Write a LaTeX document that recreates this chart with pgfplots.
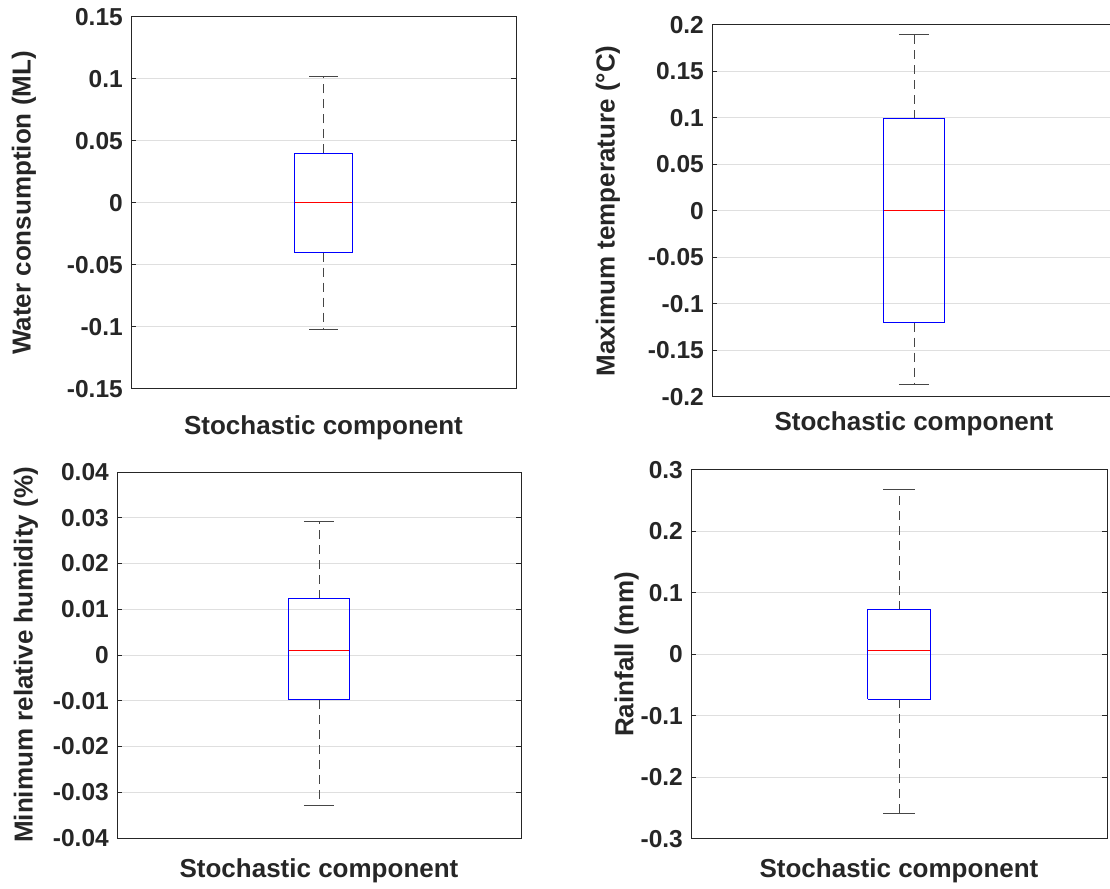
\documentclass[border=0pt]{standalone}
\usepackage{pgfplots}
\pgfplotsset{compat=1.18}
\usepackage{fontspec}
\setmainfont{Liberation Sans}
\definecolor{mgray}{RGB}{38,38,38}
\definecolor{mgrid}{RGB}{223,223,223}
\definecolor{mblue}{RGB}{0,0,255}
\definecolor{mred}{RGB}{255,0,0}
\definecolor{mwhisk}{RGB}{70,70,70}
\pgfplotsset{
  mstyle/.style={
    scale only axis, anchor=south west,
    xmin=0, xmax=1, xtick=\empty,
    scaled y ticks=false,
    axis line style={mgray, line width=1pt},
    ymajorgrids, grid style={mgrid, line width=1pt},
    major tick style={mgray, line width=1pt},
    major tick length=5pt,
    tick align=inside,
    ytick pos=both, yticklabel pos=left,
    tick label style={font=\fontsize{24.5}{24.5}\selectfont\bfseries, text=mgray},
    yticklabel style={inner sep=0pt, xshift=-8pt},
    label style={font=\fontsize{26}{26}\selectfont\bfseries, text=mgray},
    xlabel={Stochastic component},
    clip=false,
  },
  whisk/.style={mwhisk, line width=1pt, dash pattern=on 9pt off 6pt},
  cap/.style={mwhisk, line width=1pt},
  bx/.style={mblue, line width=1pt},
  md/.style={mred, line width=1pt},
}
\begin{document}
\begin{tikzpicture}
\path[use as bounding box] (0,0) rectangle (1110pt,888pt);

% Top-left: Water consumption
\begin{axis}[mstyle, at={(131pt,499pt)}, width=385pt, height=372pt,
  ymin=-0.15, ymax=0.15,
  ytick={-0.15,-0.1,-0.05,0,0.05,0.1,0.15},
  yticklabels={-0.15,-0.1,-0.05,0,0.05,0.1,0.15},
  ylabel={Water consumption (ML)},
  ylabel style={at={(axis description cs:-0.2779,0.5)}, anchor=center},
  xlabel style={at={(axis description cs:0.5,0)}, anchor=base, yshift=-46pt},
]
\addplot[whisk] coordinates {(0.5,0.040) (0.5,0.102)};
\addplot[whisk] coordinates {(0.5,-0.040) (0.5,-0.102)};
\addplot[cap] coordinates {(0.4625,0.102) (0.5375,0.102)};
\addplot[cap] coordinates {(0.4625,-0.102) (0.5375,-0.102)};
\addplot[bx] coordinates {(0.425,-0.040) (0.575,-0.040) (0.575,0.040) (0.425,0.040) (0.425,-0.040)};
\addplot[md] coordinates {(0.425,0.000) (0.575,0.000)};
\end{axis}

% Top-right: Maximum temperature
\begin{axis}[mstyle, at={(712pt,491pt)}, width=404pt, height=372pt,
  ymin=-0.2, ymax=0.2,
  ytick={-0.2,-0.15,-0.1,-0.05,0,0.05,0.1,0.15,0.2},
  yticklabels={-0.2,-0.15,-0.1,-0.05,0,0.05,0.1,0.15,0.2},
  ylabel={Maximum temperature (°C)},
  ylabel style={at={(axis description cs:-0.2574,0.5)}, anchor=center},
  xlabel style={at={(axis description cs:0.5,0)}, anchor=base, yshift=-34pt},
]
\addplot[whisk] coordinates {(0.5,0.099) (0.5,0.190)};
\addplot[whisk] coordinates {(0.5,-0.120) (0.5,-0.187)};
\addplot[cap] coordinates {(0.4625,0.190) (0.5375,0.190)};
\addplot[cap] coordinates {(0.4625,-0.187) (0.5375,-0.187)};
\addplot[bx] coordinates {(0.425,-0.120) (0.575,-0.120) (0.575,0.099) (0.425,0.099) (0.425,-0.120)};
\addplot[md] coordinates {(0.425,0.000) (0.575,0.000)};
\end{axis}

% Bottom-left: Minimum relative humidity
\begin{axis}[mstyle, at={(117pt,50pt)}, width=404pt, height=366pt,
  ymin=-0.04, ymax=0.04,
  ytick={-0.04,-0.03,-0.02,-0.01,0,0.01,0.02,0.03,0.04},
  yticklabels={-0.04,-0.03,-0.02,-0.01,0,0.01,0.02,0.03,0.04},
  ylabel={Minimum relative humidity (\%)},
  ylabel style={at={(axis description cs:-0.2252,0.5)}, anchor=center},
  xlabel style={at={(axis description cs:0.5,0)}, anchor=base, yshift=-39pt},
]
\addplot[whisk] coordinates {(0.5,0.0123) (0.5,0.0292)};
\addplot[whisk] coordinates {(0.5,-0.0098) (0.5,-0.0328)};
\addplot[cap] coordinates {(0.4625,0.0292) (0.5375,0.0292)};
\addplot[cap] coordinates {(0.4625,-0.0328) (0.5375,-0.0328)};
\addplot[bx] coordinates {(0.425,-0.0098) (0.575,-0.0098) (0.575,0.0123) (0.425,0.0123) (0.425,-0.0098)};
\addplot[md] coordinates {(0.425,0.0009) (0.575,0.0009)};
\end{axis}

% Bottom-right: Rainfall
\begin{axis}[mstyle, at={(691pt,49pt)}, width=416pt, height=369pt,
  ymin=-0.3, ymax=0.3,
  ytick={-0.3,-0.2,-0.1,0,0.1,0.2,0.3},
  yticklabels={-0.3,-0.2,-0.1,0,0.1,0.2,0.3},
  ylabel={Rainfall (mm)},
  ylabel style={at={(axis description cs:-0.155,0.5)}, anchor=center},
  xlabel style={at={(axis description cs:0.5,0)}, anchor=base, yshift=-38.7pt},
]
\addplot[whisk] coordinates {(0.5,0.073) (0.5,0.268)};
\addplot[whisk] coordinates {(0.5,-0.073) (0.5,-0.259)};
\addplot[cap] coordinates {(0.4625,0.268) (0.5375,0.268)};
\addplot[cap] coordinates {(0.4625,-0.259) (0.5375,-0.259)};
\addplot[bx] coordinates {(0.425,-0.073) (0.575,-0.073) (0.575,0.073) (0.425,0.073) (0.425,-0.073)};
\addplot[md] coordinates {(0.425,0.007) (0.575,0.007)};
\end{axis}
\end{tikzpicture}
\end{document}
